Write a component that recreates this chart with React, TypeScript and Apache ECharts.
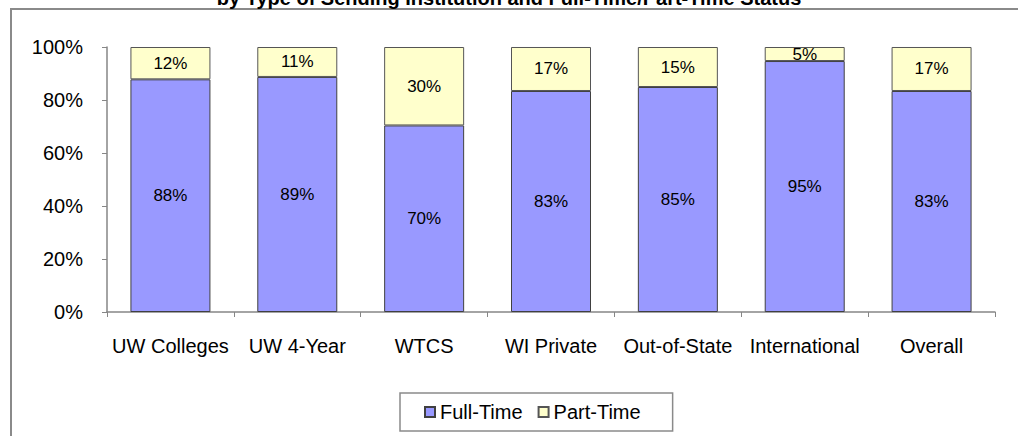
import React, { useEffect, useRef } from "react";
import * as echarts from "echarts";

const titleText = "by Type of Sending Institution and Full-Time/Part-Time Status";
const categories = ["UW Colleges", "UW 4-Year", "WTCS", "WI Private", "Out-of-State", "International", "Overall"];
const fullTime = [87.8, 88.7, 70.4, 83.4, 84.9, 94.7, 83.4];
const partTime = [12.2, 11.3, 29.6, 16.6, 15.1, 5.3, 16.6];
const yTicks = { min: 0, max: 100, interval: 20 };

const FONT = "'Liberation Sans', Arial, sans-serif";

export default function App() {
  const ref = useRef<HTMLDivElement>(null);
  useEffect(() => {
    if (!ref.current) return;
    const chart = echarts.init(ref.current, undefined, { renderer: "svg" });
    const labelFmt = (p: any) => Math.round(p.value) + "%";
    chart.setOption({
      animation: false,
      textStyle: { fontFamily: FONT, color: "#000" },
      title: {
        text: titleText,
        left: "center",
        top: -17,
        textStyle: { fontFamily: FONT, fontSize: 20, fontWeight: "bold", color: "#000" },
      },
      graphic: [
        {
          type: "rect",
          shape: { x: 11, y: 9, width: 1040, height: 460 },
          style: { fill: "none", stroke: "#8a8a8a", lineWidth: 2 },
          silent: true,
        },
      ],
      legend: {
        left: 400,
        top: 393,
        data: ["Full-Time", "Part-Time"],
        icon: "rect",
        itemWidth: 10,
        itemHeight: 10,
        itemGap: 15,
        borderColor: "#8a8a8a",
        borderWidth: 1.5,
        padding: [9, 32, 9, 24],
        textStyle: { fontFamily: FONT, fontSize: 20, color: "#000" },
      },
      grid: { left: 107, right: 23, top: 47, bottom: 124 },
      xAxis: {
        type: "category",
        data: categories,
        axisLine: { lineStyle: { color: "#868686", width: 1.5 } },
        axisTick: { show: true, length: 5, lineStyle: { color: "#868686" } },
        axisLabel: { interval: 0, fontSize: 20, margin: 24, color: "#000", fontFamily: FONT },
      },
      yAxis: {
        type: "value",
        min: yTicks.min,
        max: yTicks.max,
        interval: yTicks.interval,
        axisLine: { show: true, lineStyle: { color: "#868686", width: 1.5 } },
        axisTick: { show: true, length: 5, lineStyle: { color: "#868686" } },
        splitLine: { show: false },
        axisLabel: { formatter: "{value}%", fontSize: 20, margin: 24, color: "#000", fontFamily: FONT },
      },
      series: [
        {
          name: "Full-Time",
          type: "bar",
          stack: "total",
          data: fullTime,
          barWidth: 80,
          itemStyle: { color: "#9999FF", borderColor: "#404040", borderWidth: 1 },
          label: { show: true, position: "inside", formatter: labelFmt, fontSize: 17, color: "#000", fontFamily: FONT },
        },
        {
          name: "Part-Time",
          type: "bar",
          stack: "total",
          data: partTime,
          barWidth: 80,
          itemStyle: { color: "#FFFFCC", borderColor: "#555", borderWidth: 1 },
          label: { show: true, position: "inside", formatter: labelFmt, fontSize: 17, color: "#000", fontFamily: FONT },
        },
      ],
    });
    return () => chart.dispose();
  }, []);
  return (
    <div
      ref={ref}
      style={{ position: "fixed", left: 0, top: 0, width: 1018, height: 436, background: "#fff" }}
    />
  );
}
